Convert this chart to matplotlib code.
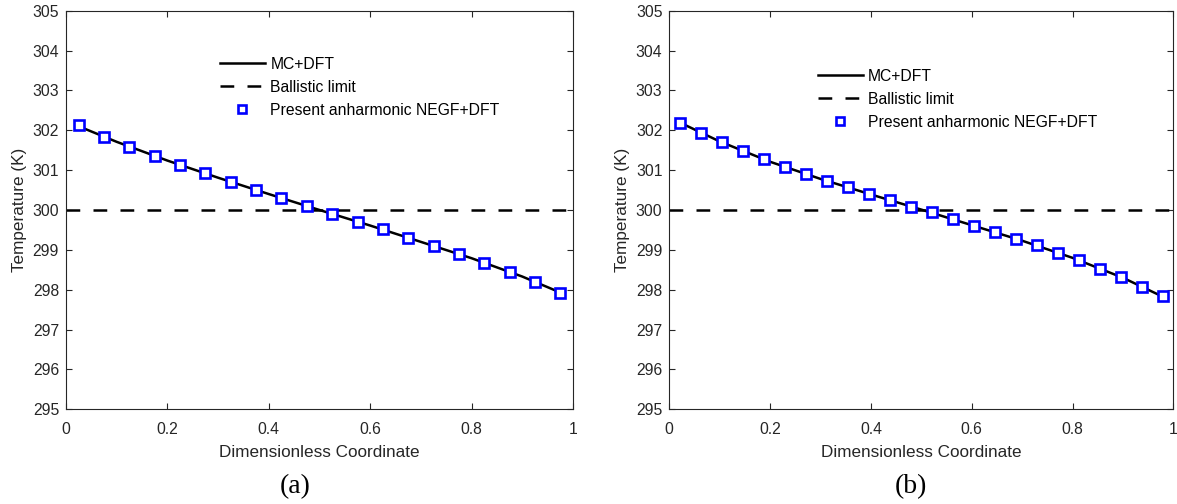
'''
Temperature profile along the channel: MC+DFT vs anharmonic NEGF+DFT,
two cases (a) and (b), with the ballistic limit for reference.
'''

import numpy as np
import matplotlib.pyplot as plt

plt.rcParams['font.family'] = ['Liberation Sans', 'DejaVu Sans']
plt.rcParams['font.size'] = 11.3

# Data
# Panel (a)
x_negf_a = [0.025, 0.075, 0.125, 0.175, 0.225, 0.275, 0.325, 0.375, 0.425, 0.475,
            0.525, 0.575, 0.625, 0.675, 0.725, 0.775, 0.825, 0.875, 0.925, 0.975]
T_negf_a = [302.12, 301.84, 301.59, 301.35, 301.13, 300.92, 300.71, 300.50, 300.30, 300.11,
            299.90, 299.71, 299.52, 299.31, 299.10, 298.90, 298.68, 298.45, 298.20, 297.93]
x_mc_a = [0.025, 0.1, 0.2, 0.3, 0.4, 0.5, 0.6, 0.7, 0.8, 0.9, 0.975]
T_mc_a = [302.10, 301.71, 301.24, 300.81, 300.40, 300.00, 299.61, 299.20, 298.79, 298.33, 297.93]

# Panel (b)
x_negf_b = [0.0208, 0.0625, 0.1042, 0.1458, 0.1875, 0.2292, 0.2708, 0.3125, 0.3542, 0.3958,
            0.4375, 0.4792, 0.5208, 0.5625, 0.6042, 0.6458, 0.6875, 0.7292, 0.7708, 0.8125,
            0.8542, 0.8958, 0.9375, 0.9792]
T_negf_b = [302.19, 301.93, 301.70, 301.47, 301.27, 301.08, 300.90, 300.73, 300.57, 300.41,
            300.24, 300.08, 299.94, 299.77, 299.60, 299.45, 299.28, 299.11, 298.93, 298.74,
            298.53, 298.32, 298.07, 297.83]
x_mc_b = [0.02, 0.1, 0.2, 0.3, 0.4, 0.5, 0.6, 0.7, 0.8, 0.9, 0.98]
T_mc_b = [302.20, 301.72, 301.21, 300.78, 300.39, 300.01, 299.62, 299.23, 298.80, 298.30, 297.82]

# Ballistic limit
x_ball = [0, 1]
T_ball = [300, 300]

labels = ['MC+DFT', 'Ballistic limit', 'Present anharmonic NEGF+DFT']
panel_tags = ['(a)', '(b)']
xticks = [0, 0.2, 0.4, 0.6, 0.8, 1]
xticklabels = ['0', '0.2', '0.4', '0.6', '0.8', '1']
yticks = np.arange(295, 306, 1)

axcol = '#262626'

fig = plt.figure(figsize=(11.77, 5.04), dpi=100)
ax_a = fig.add_axes([66/1177, 1 - 409.3/504, 507/1177, 398.6/504])
ax_b = fig.add_axes([669.3/1177, 1 - 409.3/504, 504/1177, 398.6/504])

panels = [
    (ax_a, x_mc_a, T_mc_a, x_negf_a, T_negf_a, (0.304, 0.884), 295/1177),
    (ax_b, x_mc_b, T_mc_b, x_negf_b, T_negf_b, (0.295, 0.854), 911/1177),
]

for ax, xm, Tm, xn, Tn, leg_pos, tag_x in panels:
    ax.plot(xm, Tm, color='k', lw=1.8, label=labels[0])
    ax.plot(x_ball, T_ball, color='k', lw=1.8, ls=(0, (5.5, 5.3)), label=labels[1])
    ax.plot(xn, Tn, ls='None', marker='s', ms=7.2, mew=1.9, mec='#0000ff',
            mfc='white', label=labels[2])

    ax.set_xlim(0, 1)
    ax.set_ylim(295, 305)
    ax.set_xticks(xticks)
    ax.set_xticklabels(xticklabels)
    ax.set_yticks(yticks)
    ax.tick_params(direction='in', length=4.5, width=0.8, colors=axcol,
                   top=True, right=True, labelsize=11.3)
    ax.tick_params(axis='x', pad=9)
    ax.tick_params(axis='y', pad=5)
    for s in ax.spines.values():
        s.set_color(axcol)
        s.set_linewidth(0.8)

    ax.set_xlabel('Dimensionless Coordinate', fontsize=12.3, color=axcol, labelpad=6)
    ax.set_ylabel('Temperature (K)', fontsize=12.3, color=axcol, labelpad=4)

    ax.legend(loc='upper left', bbox_to_anchor=leg_pos, frameon=False,
              borderpad=0, borderaxespad=0, handlelength=2.85, handletextpad=0.35,
              labelspacing=0.5, numpoints=1, markerscale=0.85, fontsize=11.3)

# Panel tags below each axes
for tag, p in zip(panel_tags, panels):
    fig.text(p[-1], 1 - 487/504, tag, ha='center', va='center',
             family='Liberation Serif', fontsize=20)

fig.savefig('out.png', dpi=100)
